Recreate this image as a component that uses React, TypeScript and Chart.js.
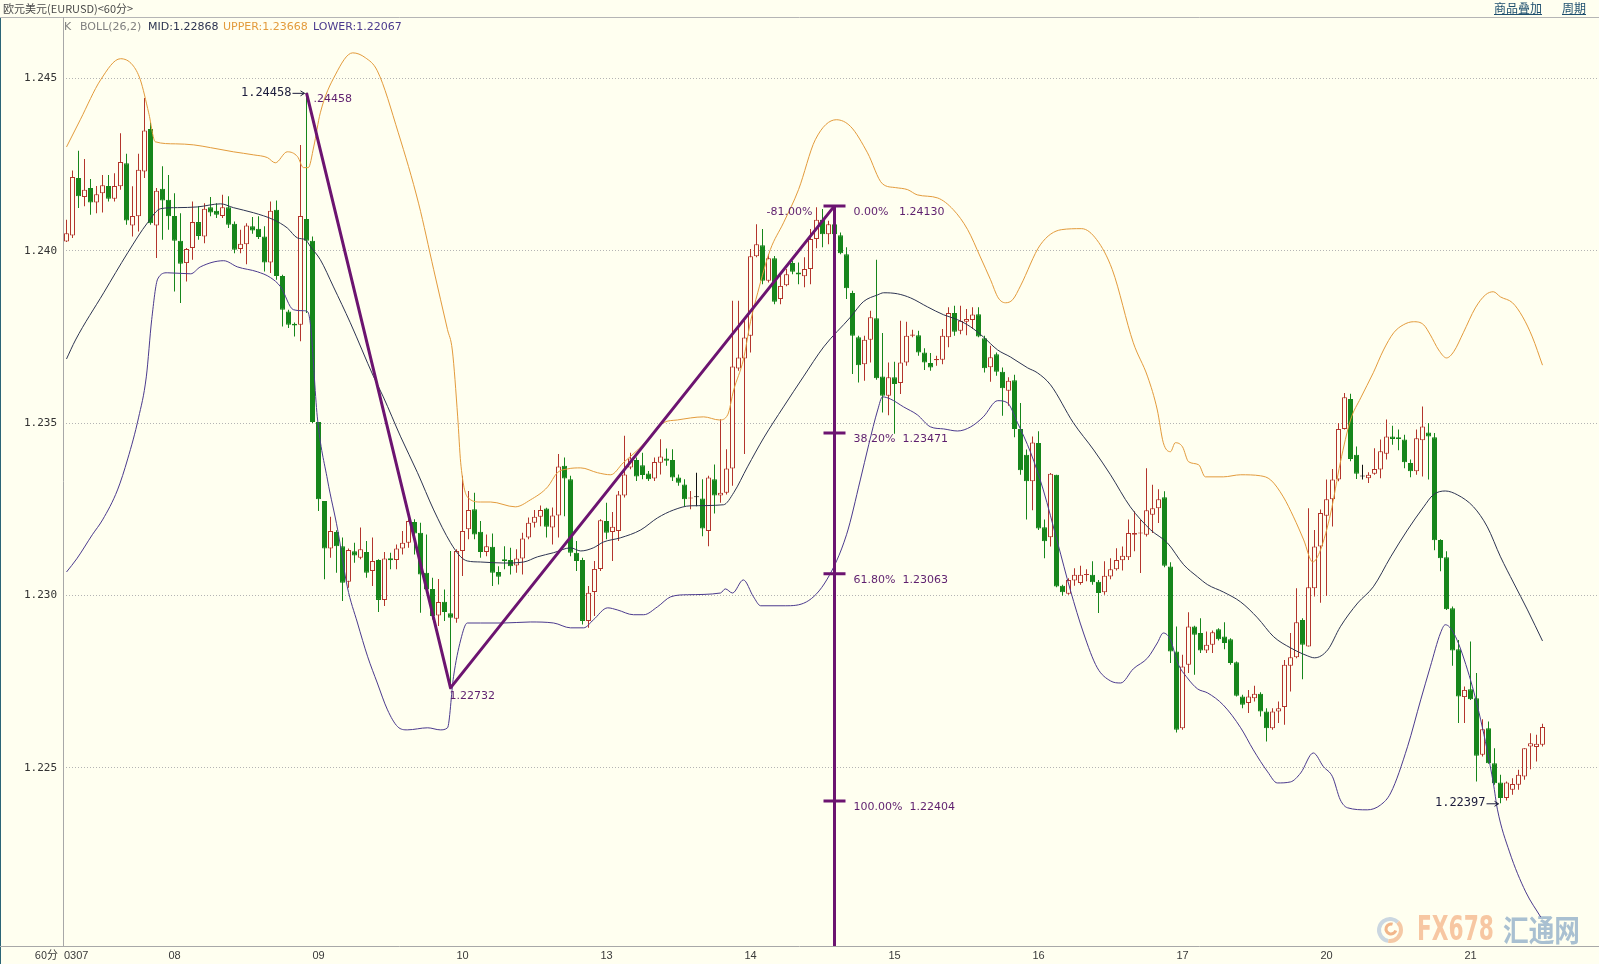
import React, { useEffect, useRef } from 'react';
import { Chart, registerables } from 'chart.js';

Chart.register(...registerables);

// ---------- data ----------
const opens = [
  1.24027,1.24044,1.24211,1.24156,1.24182,1.24140,1.24167,1.24188,1.24151,1.24187,
  1.24254,1.24073,1.24100,1.24230,1.24353,1.24073,1.24180,1.24148,1.24101,1.24029,
  1.23964,1.24008,1.24083,1.24041,1.24126,1.24116,1.24101,1.24126,1.24078,1.24005,
  1.24019,1.24071,1.24064,1.24041,1.23966,1.24119,1.23927,1.23824,1.23788,1.23785,
  1.24092,1.24029,1.23503,1.23274,1.23136,1.23184,1.23143,1.23040,1.23128,1.23109,
  1.23126,1.23071,1.23103,1.22987,1.23108,1.23103,1.23136,1.23153,1.23213,1.23182,
  1.23066,1.23019,1.22942,1.22982,1.22948,1.22932,1.23129,1.23192,1.23250,1.23185,
  1.23126,1.23141,1.23068,1.23105,1.23103,1.23087,1.23107,1.23168,1.23211,1.23228,
  1.23252,1.23197,1.23232,1.23376,1.23337,1.23124,1.23103,1.22926,1.23010,1.23077,
  1.23216,1.23184,1.23187,1.23290,1.23371,1.23393,1.23378,1.23354,1.23339,1.23385,
  1.23397,1.23393,1.23342,1.23322,1.23281,1.23285,1.23281,1.23187,1.23337,1.23290,
  1.23298,1.23368,1.23658,1.23687,1.23753,1.23984,1.24016,1.23913,1.23978,1.23860,
  1.23900,1.23964,1.23937,1.23926,1.23947,1.24034,1.24090,1.24048,1.24077,1.24045,
  1.23990,1.23877,1.23749,1.23671,1.23742,1.23804,1.23635,1.23579,1.23633,1.23616,
  1.23676,1.23753,1.23755,1.23705,1.23674,1.23682,1.23684,1.23749,1.23819,1.23768,
  1.23794,1.23799,1.23816,1.23746,1.23662,1.23700,1.23649,1.23594,1.23624,1.23483,
  1.23408,1.23331,1.23442,1.23198,1.23169,1.23350,1.23028,1.23005,1.23043,1.23036,
  1.23059,1.23060,1.23040,1.23009,1.23055,1.23076,1.23102,1.23111,1.23176,1.23180,
  1.23176,1.23234,1.23253,1.23285,1.23084,1.22837,1.22615,1.22799,1.22910,1.22891,
  1.22840,1.22857,1.22902,1.22881,1.22873,1.22806,1.22707,1.22688,1.22702,1.22715,
  1.22663,1.22615,1.22663,1.22676,1.22796,1.22821,1.22929,1.22852,1.23021,1.23142,
  1.23231,1.23279,1.23336,1.23483,1.23570,1.23408,1.23345,1.23340,1.23353,1.23365,
  1.23411,1.23461,1.23459,1.23452,1.23384,1.23360,1.23450,1.23473,1.23459,1.23161,
  1.23111,1.22963,1.22844,1.22705,1.22728,1.22702,1.22538,1.22615,1.22513,1.22457,
  1.22412,1.22436,1.22451,1.22475,1.22562,1.22560,1.22567,
];
const highs = [
  1.24090,1.24233,1.24290,1.24266,1.24208,1.24188,1.24220,1.24220,1.24225,1.24341,
  1.24281,1.24187,1.24281,1.24443,1.24372,1.24182,1.24245,1.24220,1.24167,1.24109,
  1.24008,1.24143,1.24129,1.24138,1.24156,1.24138,1.24162,1.24158,1.24085,1.24061,
  1.24080,1.24098,1.24100,1.24071,1.24143,1.24146,1.23930,1.23829,1.23792,1.24307,
  1.24458,1.24041,1.23503,1.23274,1.23228,1.23189,1.23168,1.23136,1.23153,1.23197,
  1.23158,1.23168,1.23105,1.23126,1.23124,1.23148,1.23187,1.23221,1.23221,1.23211,
  1.23177,1.23051,1.23048,1.23017,1.23129,1.23134,1.23347,1.23303,1.23298,1.23216,
  1.23177,1.23180,1.23085,1.23143,1.23138,1.23134,1.23182,1.23226,1.23248,1.23261,
  1.23254,1.23255,1.23410,1.23400,1.23347,1.23158,1.23109,1.23027,1.23100,1.23221,
  1.23269,1.23242,1.23303,1.23463,1.23414,1.23400,1.23414,1.23361,1.23400,1.23453,
  1.23426,1.23424,1.23351,1.23337,1.23303,1.23356,1.23337,1.23347,1.23380,1.23511,
  1.23424,1.23855,1.23855,1.23802,1.24005,1.24077,1.24063,1.23990,1.23985,1.23929,
  1.23947,1.23971,1.23966,1.23981,1.24063,1.24126,1.24121,1.24087,1.24130,1.24053,
  1.24010,1.23884,1.23753,1.23753,1.23826,1.23974,1.23761,1.23676,1.23678,1.23797,
  1.23794,1.23771,1.23768,1.23717,1.23703,1.23695,1.23773,1.23836,1.23840,1.23840,
  1.23831,1.23836,1.23836,1.23753,1.23724,1.23705,1.23661,1.23633,1.23640,1.23558,
  1.23423,1.23461,1.23476,1.23220,1.23355,1.23350,1.23031,1.23050,1.23079,1.23086,
  1.23076,1.23099,1.23045,1.23099,1.23108,1.23137,1.23142,1.23220,1.23244,1.23220,
  1.23369,1.23321,1.23308,1.23302,1.23096,1.22910,1.22828,1.22951,1.22912,1.22934,
  1.22895,1.22898,1.22905,1.22922,1.22876,1.22808,1.22712,1.22726,1.22738,1.22719,
  1.22673,1.22673,1.22692,1.22813,1.22891,1.23021,1.22934,1.23253,1.23190,1.23249,
  1.23336,1.23367,1.23500,1.23587,1.23585,1.23432,1.23379,1.23357,1.23427,1.23452,
  1.23510,1.23492,1.23481,1.23466,1.23394,1.23481,1.23548,1.23500,1.23471,1.23163,
  1.23128,1.22968,1.22871,1.22736,1.22866,1.22775,1.22641,1.22634,1.22557,1.22480,
  1.22460,1.22470,1.22494,1.22557,1.22600,1.22596,1.22628,
];
const lows = [
  1.24025,1.24037,1.24124,1.24129,1.24104,1.24109,1.24111,1.24143,1.24143,1.24177,
  1.24075,1.24041,1.24056,1.24211,1.24075,1.23979,1.24032,1.24061,1.23882,1.23848,
  1.23911,1.23974,1.24032,1.24022,1.24100,1.24095,1.24095,1.24066,1.23993,1.23993,
  1.23961,1.24049,1.24034,1.23940,1.23935,1.23916,1.23780,1.23776,1.23751,1.23737,
  1.23819,1.23500,1.23245,1.23047,1.23109,1.23066,1.22984,1.23022,1.23095,1.23105,
  1.23051,1.23027,1.22952,1.22969,1.23076,1.23076,1.23119,1.23138,1.23119,1.22950,
  1.23008,1.22930,1.22911,1.22926,1.22732,1.22921,1.23056,1.23163,1.23163,1.23109,
  1.23114,1.23027,1.23032,1.23076,1.23061,1.23066,1.23061,1.23163,1.23197,1.23201,
  1.23168,1.23148,1.23168,1.23230,1.23114,1.23071,1.22916,1.22906,1.22940,1.23071,
  1.23163,1.23100,1.23158,1.23284,1.23366,1.23332,1.23337,1.23332,1.23332,1.23351,
  1.23376,1.23332,1.23318,1.23259,1.23250,1.23259,1.23172,1.23143,1.23238,1.23269,
  1.23293,1.23318,1.23652,1.23410,1.23705,1.23981,1.23903,1.23908,1.23845,1.23845,
  1.23897,1.23932,1.23903,1.23894,1.23903,1.24007,1.24010,1.24019,1.24044,1.23990,
  1.23860,1.23642,1.23618,1.23623,1.23676,1.23626,1.23531,1.23523,1.23469,1.23584,
  1.23666,1.23749,1.23695,1.23654,1.23652,1.23666,1.23671,1.23720,1.23753,1.23758,
  1.23755,1.23773,1.23749,1.23647,1.23620,1.23637,1.23521,1.23550,1.23459,1.23350,
  1.23220,1.23247,1.23190,1.23108,1.23142,1.23024,1.22999,1.23002,1.23028,1.23031,
  1.23041,1.23031,1.22949,1.23002,1.23047,1.23072,1.23072,1.23103,1.23128,1.23065,
  1.23171,1.23181,1.23210,1.23082,1.22804,1.22602,1.22610,1.22775,1.22770,1.22833,
  1.22833,1.22833,1.22869,1.22844,1.22799,1.22707,1.22673,1.22659,1.22692,1.22649,
  1.22576,1.22610,1.22630,1.22625,1.22721,1.22818,1.22757,1.22852,1.22997,1.22979,
  1.22998,1.23200,1.23331,1.23481,1.23389,1.23338,1.23336,1.23326,1.23350,1.23340,
  1.23394,1.23437,1.23421,1.23369,1.23343,1.23350,1.23345,1.23336,1.23131,1.23070,
  1.22958,1.22796,1.22630,1.22630,1.22697,1.22460,1.22533,1.22512,1.22451,1.22397,
  1.22405,1.22422,1.22436,1.22465,1.22496,1.22518,1.22562,
];
const closes = [
  1.24051,1.24214,1.24158,1.24177,1.24140,1.24164,1.24190,1.24151,1.24188,1.24257,
  1.24088,1.24101,1.24235,1.24349,1.24080,1.24174,1.24146,1.24100,1.24029,1.23962,
  1.24005,1.24083,1.24043,1.24122,1.24111,1.24104,1.24126,1.24075,1.24003,1.24020,
  1.24073,1.24059,1.24040,1.23966,1.24116,1.23927,1.23829,1.23785,1.23783,1.24101,
  1.24029,1.23503,1.23279,1.23136,1.23187,1.23143,1.23037,1.23132,1.23116,1.23134,
  1.23066,1.23100,1.22987,1.23107,1.23102,1.23136,1.23153,1.23216,1.23180,1.23061,
  1.23017,1.22940,1.22981,1.22952,1.22935,1.23129,1.23187,1.23248,1.23177,1.23126,
  1.23143,1.23066,1.23054,1.23100,1.23085,1.23107,1.23165,1.23211,1.23228,1.23248,
  1.23199,1.23232,1.23374,1.23339,1.23124,1.23100,1.22926,1.23008,1.23077,1.23218,
  1.23182,1.23199,1.23293,1.23351,1.23397,1.23345,1.23349,1.23337,1.23387,1.23403,
  1.23391,1.23342,1.23327,1.23279,1.23284,1.23285,1.23194,1.23342,1.23290,1.23298,
  1.23368,1.23664,1.23690,1.23748,1.23984,1.24019,1.23913,1.23978,1.23852,1.23898,
  1.23932,1.23939,1.23931,1.23947,1.24034,1.24090,1.24048,1.24077,1.24048,1.23993,
  1.23891,1.23753,1.23668,1.23742,1.23807,1.23630,1.23579,1.23633,1.23613,1.23676,
  1.23753,1.23757,1.23705,1.23676,1.23661,1.23686,1.23753,1.23819,1.23765,1.23797,
  1.23802,1.23815,1.23751,1.23659,1.23691,1.23649,1.23601,1.23623,1.23483,1.23363,
  1.23331,1.23444,1.23194,1.23157,1.23353,1.23026,1.23009,1.23045,1.23060,1.23060,
  1.23061,1.23038,1.23007,1.23057,1.23076,1.23103,1.23115,1.23181,1.23181,1.23182,
  1.23247,1.23253,1.23279,1.23086,1.22837,1.22610,1.22794,1.22910,1.22886,1.22840,
  1.22857,1.22893,1.22873,1.22862,1.22804,1.22709,1.22683,1.22707,1.22715,1.22663,
  1.22615,1.22663,1.22673,1.22799,1.22821,1.22922,1.22857,1.23024,1.23142,1.23239,
  1.23279,1.23336,1.23483,1.23575,1.23396,1.23353,1.23345,1.23350,1.23367,1.23418,
  1.23461,1.23454,1.23454,1.23386,1.23360,1.23456,1.23490,1.23461,1.23160,1.23108,
  1.22960,1.22840,1.22707,1.22726,1.22699,1.22535,1.22612,1.22513,1.22455,1.22412,
  1.22457,1.22453,1.22480,1.22557,1.22571,1.22570,1.22618,
];

// Bollinger band lines as [candle index, price]
const upperBand: [number, number][] = [
  [0,1.24301],[2.3,1.24380],[5.7,1.24496],[9,1.24557],[11,1.24539],[12.3,1.24496],[13.7,1.24400],[14.8,1.24316],
  [18.2,1.24310],[21.2,1.24307],[24,1.24299],[27.8,1.24287],[31.2,1.24278],[33.5,1.24270],[34.8,1.24255],[36.8,1.24287],
  [38.5,1.24273],[39.5,1.24241],[40.3,1.24241],[41.2,1.24301],[42.3,1.24400],[44.8,1.24510],[47.7,1.24574],[49.8,1.24560],
  [51.8,1.24522],[55.3,1.24342],[58.7,1.24136],[61.2,1.23945],[63.5,1.23771],[64.3,1.23712],[65.2,1.23518],[65.7,1.23385],
  [66.8,1.23286],[69,1.23271],[70.7,1.23271],[74.8,1.23257],[77.3,1.23277],[80.2,1.23315],[81.8,1.23356],[83.5,1.23367],
  [85.7,1.23370],[88.5,1.23356],[90.7,1.23350],[92.8,1.23385],[95.2,1.23422],[97.3,1.23460],[99.5,1.23501],[101.8,1.23509],
  [106.2,1.23518],[108.8,1.23509],[110.2,1.23524],[111.2,1.23596],[112.8,1.23683],[114,1.23794],[115.2,1.23878],[117.3,1.24003],
  [119.5,1.24081],[122,1.24177],[124.8,1.24322],[128.3,1.24380],[130.7,1.24360],[133.5,1.24284],[136,1.24194],[138.2,1.24183],
  [140.2,1.24177],[141.8,1.24162],[145.2,1.24153],[147.8,1.24119],[150.2,1.24061],[152.3,1.23982],[154,1.23916],[155.3,1.23863],
  [156.5,1.23849],[157.7,1.23858],[159,1.23898],[162.3,1.24017],[165.8,1.24061],[169.2,1.24064],[171.7,1.24032],[174.3,1.23945],
  [177.8,1.23733],[180.2,1.23634],[181.8,1.23538],[182.8,1.23443],[184,1.23417],[184.8,1.23443],[186,1.23431],[187,1.23388],
  [188.7,1.23379],[189.8,1.23344],[192.8,1.23344],[195.7,1.23350],[199,1.23347],[200.7,1.23335],[202.8,1.23286],[204.5,1.23228],
  [206.2,1.23161],[207.7,1.23097],[209,1.23132],[210.7,1.23239],[212.3,1.23385],[214,1.23509],[215.7,1.23573],[217.8,1.23646],
  [219.5,1.23712],[221.2,1.23762],[222.8,1.23785],[224.5,1.23794],[226.2,1.23785],[227.3,1.23756],[228.7,1.23712],[230,1.23689],
  [231.2,1.23707],[232.8,1.23762],[234.8,1.23834],[236.5,1.23872],[237.8,1.23881],[239,1.23866],[241,1.23849],[242.7,1.23808],
  [244.3,1.23750],[246,1.23668],
];
const midBand: [number, number][] = [
  [0,1.23686],[1.5,1.23741],[6.2,1.23878],[10.2,1.23994],[13.5,1.24081],[15.7,1.24122],[18.5,1.24125],[21.8,1.24127],
  [25.7,1.24136],[27.8,1.24125],[31.2,1.24110],[34.5,1.24090],[36.8,1.24066],[38.5,1.24037],[39.8,1.24032],[40.7,1.24011],
  [42.3,1.23974],[44.5,1.23895],[47.3,1.23791],[51.2,1.23634],[52.8,1.23576],[55.7,1.23460],[58.5,1.23356],[61.2,1.23248],
  [64,1.23153],[65.7,1.23112],[66.8,1.23100],[69,1.23097],[72.8,1.23094],[76.2,1.23097],[78.5,1.23112],[81.2,1.23124],
  [84,1.23138],[85.7,1.23129],[87.8,1.23138],[89.5,1.23155],[92.3,1.23167],[95.7,1.23190],[98.5,1.23225],[101.2,1.23248],
  [104,1.23260],[109.5,1.23263],[111.2,1.23298],[113.5,1.23373],[116.2,1.23457],[119.5,1.23547],[122.8,1.23634],[126.2,1.23721],
  [130.7,1.23808],[132.8,1.23852],[135.2,1.23872],[136.2,1.23878],[138.5,1.23875],[140.7,1.23863],[143.5,1.23837],[146.2,1.23814],
  [148.5,1.23800],[150.7,1.23779],[152.8,1.23750],[155.2,1.23712],[157.3,1.23692],[160.2,1.23660],[161.8,1.23646],[164,1.23611],
  [167.8,1.23501],[171.2,1.23422],[174,1.23350],[177.3,1.23257],[180.7,1.23190],[183.5,1.23152],[186.2,1.23089],[188.5,1.23054],
  [190.2,1.23031],[192.8,1.23010],[195.7,1.22981],[198.5,1.22935],[201.2,1.22880],[204,1.22848],[206.8,1.22825],[208,1.22819],
  [210.2,1.22842],[212.3,1.22909],[215.2,1.22978],[217.8,1.23025],[220.7,1.23112],[223.5,1.23190],[226.2,1.23257],[227.8,1.23292],
  [229.8,1.23303],[231.8,1.23292],[234.5,1.23257],[236.8,1.23199],[239,1.23112],[241.2,1.23036],[243.5,1.22958],[246,1.22868],
];
const lowerBand: [number, number][] = [
  [0,1.23068],[1.7,1.23106],[4.3,1.23176],[6,1.23219],[8.5,1.23306],[10.2,1.23396],[12,1.23515],[13.3,1.23634],
  [14.2,1.23800],[15.2,1.23918],[16.8,1.23936],[20.7,1.23933],[22.3,1.23953],[26.2,1.23971],[28.5,1.23953],[31.8,1.23939],
  [34,1.23922],[35.7,1.23895],[37.8,1.23829],[39.5,1.23826],[40.2,1.23823],[40.7,1.23779],[41.8,1.23518],[43.5,1.23335],
  [45.2,1.23190],[46.8,1.23025],[48.5,1.22920],[50.2,1.22822],[51.8,1.22746],[53.5,1.22668],[55.2,1.22619],[56.8,1.22610],
  [60.2,1.22616],[62.3,1.22610],[63.5,1.22616],[64.5,1.22764],[65.7,1.22871],[66.8,1.22920],[69,1.22920],[72.8,1.22920],
  [77.3,1.22923],[81.2,1.22920],[84,1.22906],[86.2,1.22906],[87.8,1.22929],[90.2,1.22964],[91.8,1.22958],[94.5,1.22944],
  [96.2,1.22944],[98.5,1.22967],[100.7,1.22996],[103.5,1.23002],[109,1.23007],[109.8,1.23019],[111,1.23007],[112.8,1.23045],
  [114.5,1.22996],[115.7,1.22970],[119.8,1.22970],[123.3,1.22981],[126.7,1.23045],[130,1.23176],[132.3,1.23335],[133.7,1.23437],
  [135.2,1.23538],[136,1.23576],[137.3,1.23570],[139.5,1.23547],[141.8,1.23524],[144,1.23489],[146.2,1.23483],[148.5,1.23477],
  [150.7,1.23489],[152.8,1.23518],[155.2,1.23565],[156.8,1.23559],[158.5,1.23501],[160.7,1.23414],[162.8,1.23306],[165.2,1.23152],
  [167.3,1.23016],[169.5,1.22891],[171.8,1.22790],[174,1.22752],[175.7,1.22746],[177.8,1.22787],[180.2,1.22819],[181.8,1.22862],
  [182.8,1.22891],[184,1.22871],[185.2,1.22804],[186.8,1.22761],[188.5,1.22729],[190.2,1.22717],[192.8,1.22682],[195.7,1.22616],
  [197.8,1.22552],[200.2,1.22488],[201.8,1.22456],[204,1.22459],[205.7,1.22485],[207.8,1.22543],[209.5,1.22503],[211,1.22474],
  [212.3,1.22407],[213.5,1.22384],[216.8,1.22378],[219,1.22392],[220.7,1.22427],[223.5,1.22561],[225.7,1.22697],[227.3,1.22793],
  [229,1.22891],[229.8,1.22915],[231.2,1.22891],[233.5,1.22784],[235.7,1.22639],[237.8,1.22456],[238.5,1.22378],[240.5,1.22256],
  [243.2,1.22140],[245.7,1.22067],
];

const dayLabels = ['0307', '08', '09', '10', '13', '14', '15', '16', '17', '20', '21'];
const dayStarts = [0, 18, 42, 66, 90, 114, 138, 162, 186, 210, 234];
const yTicks = [1.225, 1.23, 1.235, 1.24, 1.245];
const Y_MIN = 1.21983;
const Y_MAX = 1.24678;
const SLOTS = 256;

const trendIdx = [40, 64, 128];
const trendVal = [1.24458, 1.22732, 1.2413];
const fibPct = ['0.00%', '38.20%', '61.80%', '100.00%'];
const fibVal = [1.2413, 1.23471, 1.23063, 1.22404];
const fibExt = '-81.00%';
const lastLowIdx = 239;
const lastLowVal = 1.22397;

const titleText = '欧元美元(EURUSD)<60分>';
const bollHead = ['K', 'BOLL(26,2)'];
const bollLabels = ['MID:1.22868', 'UPPER:1.23668', 'LOWER:1.22067'];

// ---------- styles ----------
const W = 1599;
const H = 964;
const BG = '#FFFFF0';
const UP = '#B3352C';
const DOWN = '#16861B';
const DOJI = '#111111';
const UPPER_C = '#E39B3C';
const MID_C = '#2D3452';
const LOWER_C = '#4B3A8E';
const FIB_C = '#6C1470';
const FIB_TEXT = '#5E1F6E';

const fmt = (v: number) => v.toFixed(5);

function arrowRight(ctx: CanvasRenderingContext2D, x1: number, x2: number, y: number) {
  ctx.beginPath();
  ctx.moveTo(x1, y);
  ctx.lineTo(x2, y);
  ctx.moveTo(x2 - 4, y - 2.5);
  ctx.lineTo(x2, y);
  ctx.lineTo(x2 - 4, y + 2.5);
  ctx.stroke();
}

const decor = {
  id: 'decor',
  beforeDraw(chart: any) {
    const ctx: CanvasRenderingContext2D = chart.ctx;
    ctx.save();
    ctx.fillStyle = BG;
    ctx.fillRect(0, 0, W, H);
    ctx.textBaseline = 'middle';
    ctx.textAlign = 'left';
    ctx.fillStyle = '#4A4A4A';
    ctx.font = '11px "Noto Sans CJK SC", sans-serif';
    ctx.fillText(titleText, 3, 9);
    ctx.fillStyle = '#1E4F6E';
    ctx.strokeStyle = '#1E4F6E';
    ctx.lineWidth = 1;
    ctx.font = '12px "Noto Sans CJK SC", sans-serif';
    const links: [string, number][] = [['商品叠加', 1494], ['周期', 1562]];
    links.forEach(([t, x]) => {
      ctx.fillText(t, x, 8);
      const w = ctx.measureText(t).width;
      ctx.beginPath();
      ctx.moveTo(x, 14.5);
      ctx.lineTo(x + w, 14.5);
      ctx.stroke();
    });
    ctx.strokeStyle = '#B5B5B5';
    ctx.beginPath();
    ctx.moveTo(0, 17.5);
    ctx.lineTo(W, 17.5);
    ctx.stroke();
    ctx.strokeStyle = '#2B6577';
    ctx.beginPath();
    ctx.moveTo(0.5, 18);
    ctx.lineTo(0.5, H);
    ctx.stroke();
    ctx.restore();
  },
  beforeDatasetsDraw(chart: any) {
    const ctx: CanvasRenderingContext2D = chart.ctx;
    ctx.save();
    const cx = 1390, cy = 930;
    ctx.lineWidth = 4;
    ctx.strokeStyle = '#CBD7E1';
    ctx.beginPath();
    ctx.arc(cx, cy, 11, Math.PI * 0.55, Math.PI * 1.75);
    ctx.stroke();
    ctx.strokeStyle = '#F5C9A6';
    ctx.beginPath();
    ctx.arc(cx, cy, 11, Math.PI * 1.75, Math.PI * 2.55);
    ctx.stroke();
    ctx.lineWidth = 3;
    ctx.strokeStyle = '#F2B68A';
    ctx.beginPath();
    ctx.arc(cx + 1, cy - 1, 5, Math.PI * 0.1, Math.PI * 1.6);
    ctx.stroke();
    ctx.textBaseline = 'middle';
    ctx.textAlign = 'left';
    ctx.font = 'bold 34px "DejaVu Sans", sans-serif';
    let w = ctx.measureText('FX678').width;
    ctx.fillStyle = '#F7C7A2';
    ctx.save();
    ctx.translate(1417, cy + 1);
    ctx.scale(77 / w, 1);
    ctx.fillText('FX678', 0, 0);
    ctx.restore();
    ctx.font = 'bold 30px "Noto Sans CJK SC", sans-serif';
    w = ctx.measureText('汇通网').width;
    ctx.fillStyle = '#A9C0D1';
    ctx.save();
    ctx.translate(1503, cy);
    ctx.scale(77 / w, 1);
    ctx.fillText('汇通网', 0, 0);
    ctx.restore();
    ctx.restore();
  },
  afterDatasetsDraw(chart: any) {
    const ctx: CanvasRenderingContext2D = chart.ctx;
    const xs = chart.scales.x;
    const ys = chart.scales.y;
    const area = chart.chartArea;
    const px = (i: number) => xs.getPixelForValue(i);
    const py = (v: number) => ys.getPixelForValue(v);
    ctx.save();

    ctx.strokeStyle = '#A8A8A8';
    ctx.lineWidth = 1;
    ctx.beginPath();
    ctx.moveTo(area.left + 0.5, area.top);
    ctx.lineTo(area.left + 0.5, area.bottom);
    ctx.moveTo(0, area.bottom + 0.5);
    ctx.lineTo(W, area.bottom + 0.5);
    ctx.stroke();

    ctx.textBaseline = 'middle';
    ctx.textAlign = 'left';
    ctx.font = '11px "DejaVu Sans", sans-serif';
    ctx.fillStyle = '#808080';
    ctx.fillText(bollHead[0], 64, 27);
    ctx.fillText(bollHead[1], 80, 27);
    const legendColors = [MID_C, UPPER_C, LOWER_C];
    const legendX = [148, 223, 313];
    bollLabels.forEach((t, k) => {
      ctx.fillStyle = legendColors[k];
      ctx.fillText(t, legendX[k], 27);
    });

    ctx.font = '11px "Liberation Sans", sans-serif';
    ctx.fillStyle = '#3A3A3A';
    dayLabels.forEach((t, k) => {
      if (k === 0) {
        ctx.textAlign = 'left';
        ctx.fillText(t, area.left + 1, 956);
      } else {
        ctx.textAlign = 'center';
        ctx.fillText(t, px(dayStarts[k]), 956);
      }
    });
    ctx.textAlign = 'right';
    ctx.font = '11px "Noto Sans CJK SC", sans-serif';
    ctx.fillText('60分', 58, 955);

    ctx.strokeStyle = FIB_C;
    ctx.lineWidth = 3;
    ctx.lineJoin = 'round';
    ctx.beginPath();
    trendIdx.forEach((i, k) => {
      const x = px(i), y = py(trendVal[k]);
      if (k === 0) ctx.moveTo(x, y); else ctx.lineTo(x, y);
    });
    ctx.stroke();

    const fx = px(trendIdx[2]);
    ctx.beginPath();
    ctx.moveTo(fx, py(fibVal[0]));
    ctx.lineTo(fx, area.bottom);
    fibVal.forEach((v) => {
      ctx.moveTo(fx - 11, py(v));
      ctx.lineTo(fx + 11, py(v));
    });
    ctx.stroke();

    ctx.fillStyle = FIB_TEXT;
    ctx.font = '11px "DejaVu Sans", sans-serif';
    ctx.textAlign = 'left';
    fibVal.forEach((v, k) => {
      const spacer = k === 0 ? '   ' : '  ';
      ctx.fillText(fibPct[k] + spacer + fmt(v), fx + 19, py(v) + 6);
    });
    ctx.textAlign = 'right';
    ctx.fillText(fibExt, fx - 22, py(fibVal[0]) + 6);

    ctx.textAlign = 'left';
    ctx.fillText(fmt(trendVal[0]).slice(1), px(trendIdx[0]) + 7, py(trendVal[0]) + 6);
    ctx.fillText(fmt(trendVal[1]), px(trendIdx[1]) - 1, py(trendVal[1]) + 8);

    ctx.fillStyle = '#1C1C3C';
    ctx.strokeStyle = '#1C1C3C';
    ctx.lineWidth = 1;
    ctx.font = '12px "DejaVu Sans Mono", monospace';
    ctx.textAlign = 'right';
    const hx = px(trendIdx[0]);
    const hy = py(trendVal[0]);
    ctx.fillText(fmt(trendVal[0]), hx - 15, hy);
    arrowRight(ctx, hx - 14, hx - 2, hy + 0.5);
    const lx = px(lastLowIdx);
    const ly = py(lastLowVal);
    ctx.fillText(fmt(lastLowVal), lx - 15, ly);
    arrowRight(ctx, lx - 14, lx - 2, ly + 0.5);

    ctx.restore();
  },
};

export default function App() {
  const ref = useRef<HTMLCanvasElement | null>(null);

  useEffect(() => {
    if (!ref.current) return;
    const n = opens.length;
    const idx = Array.from({ length: n }, (_, i) => i);
    const kind = idx.map((i) => (closes[i] > opens[i] ? 'up' : closes[i] < opens[i] ? 'down' : 'doji'));
    const col = kind.map((k) => (k === 'up' ? UP : k === 'down' ? DOWN : DOJI));
    const fill = kind.map((k) => (k === 'up' ? BG : k === 'down' ? DOWN : DOJI));

    const lineDs = (data: [number, number][], color: string) => ({
      type: 'line' as const,
      data: data.map(([x, y]) => ({ x, y })),
      borderColor: color,
      borderWidth: 1,
      pointRadius: 0,
      fill: false,
      cubicInterpolationMode: 'monotone' as const,
      order: 0,
    });

    const chart = new Chart(ref.current, {
      type: 'bar',
      data: {
        datasets: [
          lineDs(upperBand, UPPER_C),
          lineDs(midBand, MID_C),
          lineDs(lowerBand, LOWER_C),
          {
            type: 'bar',
            data: idx.map((i) => ({ x: i, y: [opens[i], closes[i]] })) as any,
            backgroundColor: fill,
            borderColor: col,
            borderWidth: 1,
            borderSkipped: false,
            barThickness: 5,
            minBarLength: 1,
            grouped: false,
            inflateAmount: 0,
            order: 1,
          } as any,
          {
            type: 'bar',
            data: idx.map((i) => ({ x: i, y: [lows[i], highs[i]] })) as any,
            backgroundColor: col,
            borderWidth: 0,
            barThickness: 1,
            grouped: false,
            inflateAmount: 0,
            order: 2,
          } as any,
        ],
      },
      options: {
        animation: false,
        responsive: false,
        devicePixelRatio: 1,
        layout: { padding: { top: 17, bottom: 18, left: 0, right: 0 } },
        plugins: { legend: { display: false }, tooltip: { enabled: false } },
        scales: {
          x: {
            type: 'linear',
            display: false,
            offset: false,
            min: -0.5 - 1 / 12,
            max: -0.5 - 1 / 12 + SLOTS,
          },
          y: {
            type: 'linear',
            position: 'left',
            min: Y_MIN,
            max: Y_MAX,
            afterFit: (s: any) => {
              s.width = 63;
            },
            afterBuildTicks: (s: any) => {
              s.ticks = yTicks.map((v) => ({ value: v }));
            },
            ticks: {
              padding: 6,
              color: '#333333',
              font: { family: '"DejaVu Sans Mono", monospace', size: 11 },
              callback: (v: any) => Number(v).toFixed(3),
            },
            grid: {
              color: '#B4B4B4',
              lineWidth: 1,
              drawTicks: false,
              drawOnChartArea: true,
            },
            border: { display: false, dash: [1, 2] },
          },
        },
      } as any,
      plugins: [decor],
    });
    return () => chart.destroy();
  }, []);

  return (
    <div style={{ position: 'fixed', left: 0, top: 0, width: W, height: H, background: BG }}>
      <canvas ref={ref} width={W} height={H} style={{ display: 'block', width: W, height: H }} />
    </div>
  );
}
